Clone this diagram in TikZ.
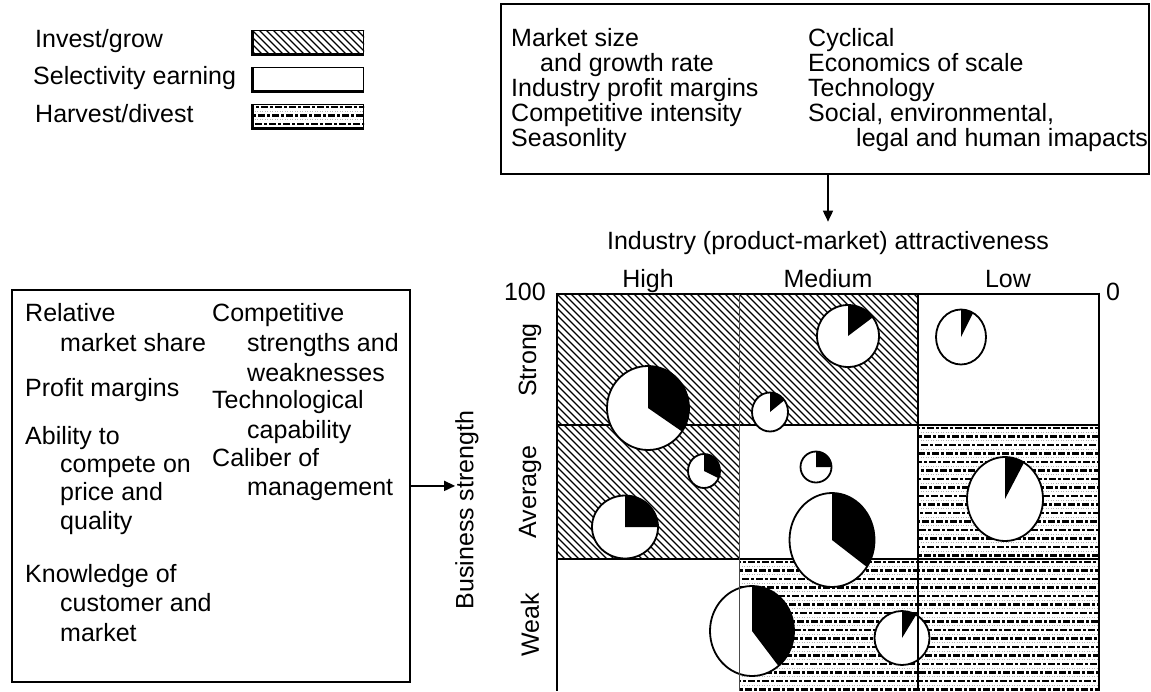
\documentclass[tikz,border=0pt]{standalone}
\usepackage{fontspec}
\setmainfont{Liberation Sans}
\usetikzlibrary{arrows.meta,calc,positioning}

\newcommand{\bcgfont}{\fontsize{25pt}{29pt}\selectfont}
% centre, x radius, y radius, black sweep (degrees, clockwise from 12 o'clock)
\newcommand{\bcgpie}[4]{%
  \fill[white] (#1) ellipse [x radius=#2pt, y radius=#3pt];
  \fill[black] (#1) -- ++(-90:#2 and #3) arc (-90:{-90+#4}:#2 and #3) -- cycle;
  \draw[pie rim] (#1) ellipse [x radius=#2pt, y radius=#3pt];
}
\newcommand{\investfill}[2]{%
  \begin{scope}
    \clip (#1) rectangle (#2);
    \foreach \d in {-140,-133,...,370}
      \draw[hatch line] ($(#1)+(\d,0)$) -- ++(160,160);
  \end{scope}
}
\newcommand{\harvestfill}[2]{%
  \begin{scope}
    \clip (#1) rectangle (#2);
    \foreach \d [count=\n] in {3,11.5,...,140} {
      \draw[harvest dash, dash phase=3*\n pt] ($(#1)+(-2,\d)$) -- ++(400,0);
      \draw[harvest dot] ($(#1)+(0,\d+4.2)$) -- ++(400,0);
    }
  \end{scope}
}

\begin{document}
\begin{tikzpicture}[x=1pt, y=-1pt,
  every node/.style={font=\bcgfont, inner sep=0pt},
  factor text/.style={anchor=base west},
  factor box/.style={draw, line width=1.8pt, anchor=north west},
  factor arrow/.style={-{Triangle[length=11pt,width=10pt]}, line width=1.6pt},
  swatch/.style={draw, line width=1pt, anchor=north west,
    minimum width=111pt, minimum height=23pt},
  hatch line/.style={line width=1.1pt},
  harvest dash/.style={line width=2.4pt, dash pattern=on 7pt off 2pt on 3pt off 2pt},
  harvest dot/.style={line width=0.9pt, gray!60, dash pattern=on 1pt off 1.5pt},
  cell line/.style={line width=2.6pt},
  thin cell line/.style={line width=0.9pt, black!70},
  pie rim/.style={line width=1.8pt}]

  \useasboundingbox (0,0) rectangle (1151,691);

  % legend
  \node[factor text] (lg_invest) at (35,47) {Invest/grow};
  \node[factor text] (lg_select) at (33,84) {Selectivity earning};
  \node[factor text] (lg_harvest) at (35,122) {Harvest/divest};
  \node[swatch] (sw_invest) at (252,30) {};
  \node[swatch] (sw_select) at (252,67) {};
  \node[swatch] (sw_harvest) at (252,104) {};
  \investfill{sw_invest.north west}{sw_invest.south east}
  \harvestfill{sw_harvest.north west}{sw_harvest.south east}
  \foreach \s in {sw_invest,sw_select,sw_harvest}
    \draw[line width=3pt] (\s.north west) -- (\s.south west) -- (\s.south east);

  % industry attractiveness
  \node[factor box, minimum width=648pt, minimum height=170pt] (top_box) at (500,3) {};
  \node[factor text] (f_size) at (511,46) {Market size};
  \node[factor text] (f_growth) at (540,71) {and growth rate};
  \node[factor text] (f_profit) at (511,96) {Industry profit margins};
  \node[factor text] (f_intens) at (511,121) {Competitive intensity};
  \node[factor text] (f_season) at (511,146) {Seasonlity};
  \node[factor text] (f_cycl) at (808,46) {Cyclical};
  \node[factor text] (f_scale) at (808,71) {Economics of scale};
  \node[factor text] (f_tech) at (808,96) {Technology};
  \node[factor text] (f_social) at (808,121) {Social, environmental,};
  \node[factor text] (f_legal) at (856,146) {legal and human imapacts};

  \node[anchor=base] (ttl) at (828,249) {Industry (product-market) attractiveness};
  \draw[factor arrow] (top_box.south -| ttl.north) -- ([yshift=9pt]ttl.north);

  \node[anchor=base] (col_high) at (648,287) {High};
  \node[anchor=base] (col_med) at (828,287) {Medium};
  \node[anchor=base] (col_low) at (1008,287) {Low};
  \node[anchor=base east] (val_top) at (546,300) {100};
  \node[anchor=base west] (val_zero) at (1106,300) {0};

  % business strength
  \node[factor box, minimum width=398pt, minimum height=392pt] (left_box) at (11,289) {};
  \node[factor text] (s_rel) at (25,321) {Relative};
  \node[factor text] (s_share) at (60,351) {market share};
  \node[factor text] (s_margin) at (25,396) {Profit margins};
  \node[factor text] (s_abil) at (25,444) {Ability to};
  \node[factor text] (s_comp) at (60,472) {compete on};
  \node[factor text] (s_price) at (60,500) {price and};
  \node[factor text] (s_qual) at (60,529) {quality};
  \node[factor text] (s_know) at (25,582) {Knowledge of};
  \node[factor text] (s_cust) at (60,611) {customer and};
  \node[factor text] (s_mkt) at (60,641) {market};
  \node[factor text] (s_cstr) at (212,321) {Competitive};
  \node[factor text] (s_str) at (247,351) {strengths and};
  \node[factor text] (s_weak) at (247,381) {weaknesses};
  \node[factor text] (s_tech) at (212,408) {Technological};
  \node[factor text] (s_cap) at (247,438) {capability};
  \node[factor text] (s_cal) at (212,466) {Caliber of};
  \node[factor text] (s_mgmt) at (247,495) {management};

  \node[rotate=90] (biz_label) at (467,510) {Business strength};
  \draw[factor arrow] (left_box.east) -- (left_box.east -| biz_label.north);

  \node[rotate=90] (row_strong) at (530,360) {Strong};
  \node[rotate=90] (row_avg) at (530,492) {Average};
  \node[rotate=90] (row_weak) at (530,625) {Weak};

  % matrix
  \investfill{557,294}{918,425}
  \investfill{557,425}{739,559}
  \harvestfill{918,425}{1099,559}
  \harvestfill{739,559}{1099,691}
  \draw[cell line] (557,294) -- (1099,294);
  \draw[cell line] (557,425) -- (1099,425);
  \draw[cell line] (557,559) -- (1099,559);

  \bcgpie{648,408}{41}{42}{124}
  \bcgpie{848,336}{31}{31}{53}
  \bcgpie{961,337}{25}{27.5}{29}
  \bcgpie{770,412}{18}{19.5}{53}
  \bcgpie{704,471}{16}{17}{115}
  \bcgpie{625,527}{33}{31.5}{90}
  \bcgpie{816,467}{15.5}{15.5}{90}
  \bcgpie{832,540}{42.5}{47}{125}
  \bcgpie{1005,499}{38}{42}{30}
  \bcgpie{752,631}{42}{45}{141}
  \bcgpie{902,638}{27.5}{27}{31}

  \draw[thin cell line] (739,294) -- (739,691);
  \draw[cell line] (918,294) -- (918,691);
  \draw[cell line] (557,292.7) -- (557,691);
  \draw[cell line] (1099,292.7) -- (1099,691);
\end{tikzpicture}
\end{document}
